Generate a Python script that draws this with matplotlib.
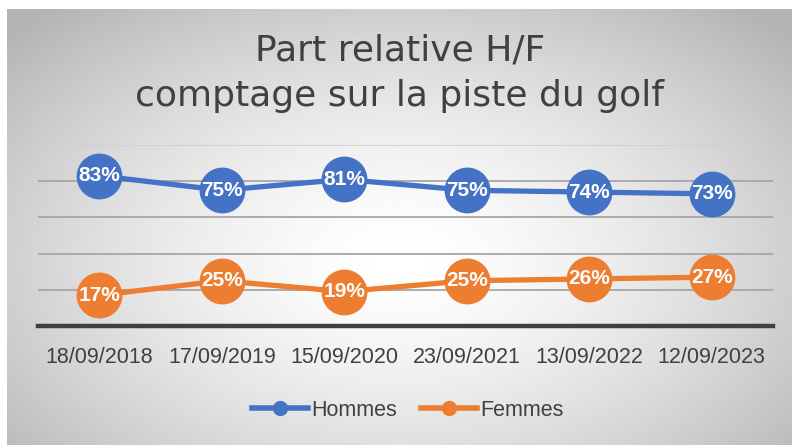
import numpy as np
import matplotlib.pyplot as plt
from matplotlib.lines import Line2D

dates = ["18/09/2018", "17/09/2019", "15/09/2020", "23/09/2021", "13/09/2022", "12/09/2023"]
hommes = [83, 75, 81, 75, 74, 73]
femmes = [17, 25, 19, 25, 26, 27]

blue = "#4472C4"
orange = "#ED7D31"

fig = plt.figure(figsize=(7.92, 4.45), dpi=100)

# radial gradient background of the chart box
bg = fig.add_axes([7 / 792, 0, 785 / 792, 436 / 445])
bg.set_axis_off()
xx, yy = np.meshgrid(np.linspace(-1, 1, 400), np.linspace(-1, 1, 220))
r = np.sqrt((xx * 0.95) ** 2 + ((yy + 0.15) * 0.85) ** 2)
shade = 1.0 - 0.2 * np.clip(r, 0, 1.3) ** 1.5
bg.imshow(shade, cmap="gray", vmin=0, vmax=1, aspect="auto",
          extent=[0, 1, 0, 1], origin="lower")
bg.set_xlim(0, 1)
bg.set_ylim(0, 1)

ax = fig.add_axes([38 / 792, 1 - 326 / 445, 735 / 792, 181 / 445])
ax.patch.set_alpha(0)
x = np.arange(len(dates))

for y in [20, 40, 60, 80]:
    ax.axhline(y, color="#a6a6a6", lw=1.3, zorder=1)
ax.axhline(100, color="#d0d0d0", lw=1.3, zorder=1)

ax.plot(x, hommes, color=blue, lw=3.8, marker="o", ms=32, zorder=3)
ax.plot(x, femmes, color=orange, lw=3.8, marker="o", ms=32, zorder=3)

for xi, v in zip(x, hommes):
    ax.text(xi, v, f"{v}%", color="white", fontsize=15, fontweight="bold",
            ha="center", va="center", zorder=4, family="Liberation Sans")
for xi, v in zip(x, femmes):
    ax.text(xi, v, f"{v}%", color="white", fontsize=15, fontweight="bold",
            ha="center", va="center", zorder=4, family="Liberation Sans")

ax.set_xlim(-0.5, 5.5)
ax.set_ylim(0, 100)
ax.set_yticks([])
ax.set_xticks(x)
ax.set_xticklabels(dates, fontsize=15.5, color="#404040", family="Liberation Sans")
ax.tick_params(axis="x", length=0, pad=15)
for s in ["top", "right", "left"]:
    ax.spines[s].set_visible(False)
ax.spines["bottom"].set_color("#404040")
ax.spines["bottom"].set_linewidth(3.2)

fig.text(0.505, 1 - 51 / 445, "Part relative H/F", ha="center", va="center",
         fontsize=26, color="#404040", family="DejaVu Sans")
fig.text(0.505, 1 - 96 / 445, "comptage sur la piste du golf", ha="center", va="center",
         fontsize=26, color="#404040", family="DejaVu Sans")

handles = [Line2D([], [], color=blue, lw=4, marker="o", ms=10),
           Line2D([], [], color=orange, lw=4, marker="o", ms=10)]
fig.legend(handles, ["Hommes", "Femmes"], loc="center", bbox_to_anchor=(0.515, 1 - 410 / 445),
           ncol=2, frameon=False, handlelength=2.6, handletextpad=0.15,
           columnspacing=1.15, labelcolor="#404040", prop={"family": "Liberation Sans", "size": 15.5})

fig.savefig("out.png", dpi=100)
